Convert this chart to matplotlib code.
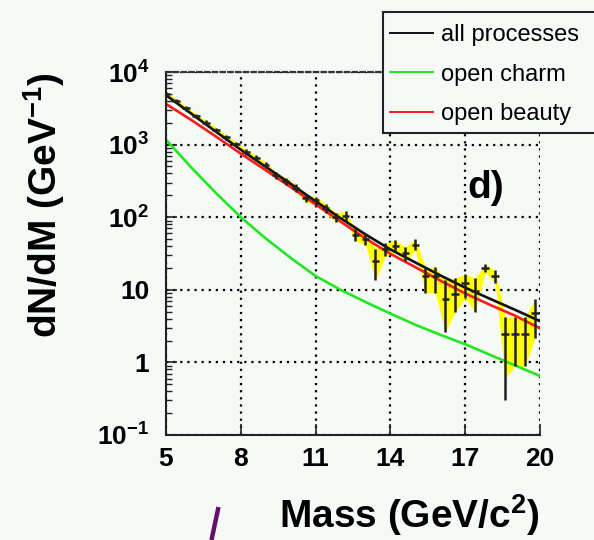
import numpy as np
import matplotlib
matplotlib.use("Agg")
import matplotlib.pyplot as plt
from matplotlib.lines import Line2D
from matplotlib.patches import Rectangle
from matplotlib.ticker import FixedLocator, LogLocator, NullFormatter

plt.rcParams['font.family'] = ['Liberation Sans', 'DejaVu Sans']
plt.rcParams['mathtext.fontset'] = 'custom'
plt.rcParams['mathtext.rm'] = 'Liberation Sans'
plt.rcParams['mathtext.bf'] = 'Liberation Sans:bold'
plt.rcParams['mathtext.it'] = 'Liberation Sans:italic'

# ---- data ----
curve_mass = [5, 6, 7, 8, 9, 10, 11, 12, 13, 14, 15, 16, 17, 18, 19, 20]
all_processes = [4800, 2690, 1510, 850, 495, 288, 166, 97, 58, 36, 23.8, 15.8, 10.7, 7.5, 5.3, 3.7]
open_charm = [1170, 490, 216, 100, 51, 27.5, 15.5, 10, 6.8, 4.7, 3.3, 2.4, 1.78, 1.27, 0.91, 0.65]
open_beauty = [3630, 2200, 1294, 750, 444, 260, 150, 87, 51, 31.3, 20.5, 13.4, 8.9, 6.2, 4.4, 2.95]

mass_pts = [5.0, 5.4, 5.8, 6.2, 6.6, 7.0, 7.4, 7.8, 8.2, 8.6, 9.0, 9.4, 9.8,
            10.2, 10.6, 11.0, 11.4, 11.8, 12.2, 12.6, 13.0, 13.4, 13.8, 14.2,
            14.6, 15.0, 15.4, 15.8, 16.2, 16.6, 17.0, 17.4, 17.8, 18.2, 18.6,
            19.0, 19.4, 19.8]
counts = [5000, 4000, 3150, 2500, 2000, 1600, 1270, 1010, 800, 650, 520, 380, 315,
          255, 185, 170, 135, 100, 105, 57, 50, 25, 36, 40,
          32, 42, 15.5, 15.5, 7.4, 8.7, 12.6, 9.6, 20, 15.5, 2.43,
          2.43, 2.43, 4.8]
bar_lo = [4650, 3720, 2930, 2320, 1850, 1480, 1170, 925, 730, 590, 470, 340, 280,
          225, 162, 148, 116, 85, 90, 47, 41, 13.8, 29, 33,
          25, 35, 9.1, 9.1, 2.6, 5.0, 7.6, 5.0, 17.5, 12.5, 0.3,
          0.89, 0.89, 2.2]
bar_hi = [5350, 4280, 3370, 2680, 2150, 1720, 1370, 1095, 870, 710, 570, 420, 350,
          285, 208, 192, 154, 115, 120, 68, 60, 37, 44, 48,
          39, 50, 20.5, 20.5, 13.8, 14.5, 16.5, 14.5, 22.5, 18.5, 4.2,
          4.2, 4.2, 7.4]
band_lo = [4650, 3720, 2930, 2320, 1850, 1480, 1170, 925, 730, 590, 470, 340, 280,
           225, 162, 148, 116, 85, 90, 47, 41, 13.8, 29, 33,
           25, 35, 9.1, 9.1, 2.6, 5.0, 7.6, 5.0, 17.5, 12.5, 0.6,
           0.89, 0.89, 2.2]
band_hi = bar_hi

x_ticks = [5, 8, 11, 14, 17, 20]
y_ticks = [0.1, 1, 10, 100, 1000, 10000]
y_tick_labels = [r'$\mathbf{10^{-1}}$', '1', '10', r'$\mathbf{10^{2}}$',
                 r'$\mathbf{10^{3}}$', r'$\mathbf{10^{4}}$']

bg = '#f6faf7'
W, H = 594, 540
fig = plt.figure(figsize=(W / 100, H / 100), dpi=100, facecolor=bg)
ax = fig.add_axes([166 / W, 1 - 435 / H, (540 - 166) / W, (435 - 72) / H], facecolor=bg)
ax.set_yscale('log')
ax.set_xlim(5, 20)
ax.set_ylim(0.1, 10000)

m = np.array(mass_pts)
c = np.array(counts)
lo = np.array(bar_lo)
hi = np.array(bar_hi)

ax.fill_between(m, band_lo, band_hi, color='#ffff00', lw=0, zorder=1)
ax.plot(curve_mass, open_charm, color='#22e622', lw=1.9, zorder=2, label='open charm')
ax.plot(curve_mass, open_beauty, color='#ff1a1a', lw=1.9, zorder=2, label='open beauty')
ax.plot(curve_mass, all_processes, color='#111111', lw=1.9, zorder=2.5, label='all processes')
ax.errorbar(m, c, yerr=[c - lo, hi - c], xerr=0.15, fmt='none', ecolor='#222222',
            elinewidth=1.8, capsize=0, zorder=3)

# grid
ax.set_axisbelow(True)
ax.grid(True, which='major', color='black', linestyle=(0, (1, 2.2)), lw=1.6)

# ticks
ax.xaxis.set_major_locator(FixedLocator(x_ticks))
ax.set_xticklabels([str(t) for t in x_ticks])
ax.yaxis.set_major_locator(FixedLocator(y_ticks))
ax.set_yticklabels(y_tick_labels)
ax.yaxis.set_minor_locator(LogLocator(base=10, subs=np.arange(2, 10)))
ax.yaxis.set_minor_formatter(NullFormatter())
ax.tick_params(axis='both', which='major', direction='in', length=8, width=1.2,
               labelsize=19, color='#222222')
ax.tick_params(axis='y', which='major', pad=12)
ax.tick_params(axis='x', which='major', pad=9)
ax.tick_params(axis='y', which='minor', direction='in', length=4, width=1.0, color='#222222')
for lab in ax.get_xticklabels() + ax.get_yticklabels():
    lab.set_fontweight('bold')

for s in ['left', 'bottom']:
    ax.spines[s].set_color('#222222')
    ax.spines[s].set_linewidth(1.5)
ax.spines['right'].set_visible(False)
ax.spines['top'].set_linestyle((0, (2, 1.5)))
ax.spines['top'].set_color('#333333')
ax.spines['top'].set_linewidth(1.6)

ax.set_ylabel(r'dN/dM (GeV$^{\mathbf{-1}}$)', fontsize=28, fontweight='bold', loc='top', labelpad=22)
ax.set_xlabel(r'Mass (GeV/c$^{\mathbf{2}}$)', fontsize=28, fontweight='bold', loc='right', labelpad=15)

ax.text(0.807, 0.68, 'd)', transform=ax.transAxes, fontsize=28, fontweight='bold',
        va='center', ha='left')

# legend frame (extends past the right edge of the picture, as in the original)
frame = Rectangle((383 / W, 1 - 133 / H), (640 - 383) / W, (133 - 12) / H,
                  transform=fig.transFigure, facecolor=bg, edgecolor='#222222',
                  lw=1.5, zorder=4, clip_on=False)
fig.add_artist(frame)

handles, labels = ax.get_legend_handles_labels()
order = [labels.index('all processes'), labels.index('open charm'), labels.index('open beauty')]
leg = fig.legend([Line2D([], [], color=handles[i].get_color(), lw=1.4) for i in order],
                 [labels[i] for i in order],
                 loc='upper left', bbox_to_anchor=(383 / W, 1 - 17 / H),
                 fontsize=17, frameon=False, borderaxespad=0,
                 borderpad=0.3, handlelength=1.8, handletextpad=0.35, labelspacing=0.74)
leg.set_zorder(5)

# stray purple stroke in the original image
fig.add_artist(Line2D([218.5 / W, 211.5 / W], [1 - 507 / H, 1 - 540 / H],
                      color='#660e6e', lw=3.2, solid_capstyle='butt'))

fig.savefig('out.png', dpi=100, facecolor=bg)
